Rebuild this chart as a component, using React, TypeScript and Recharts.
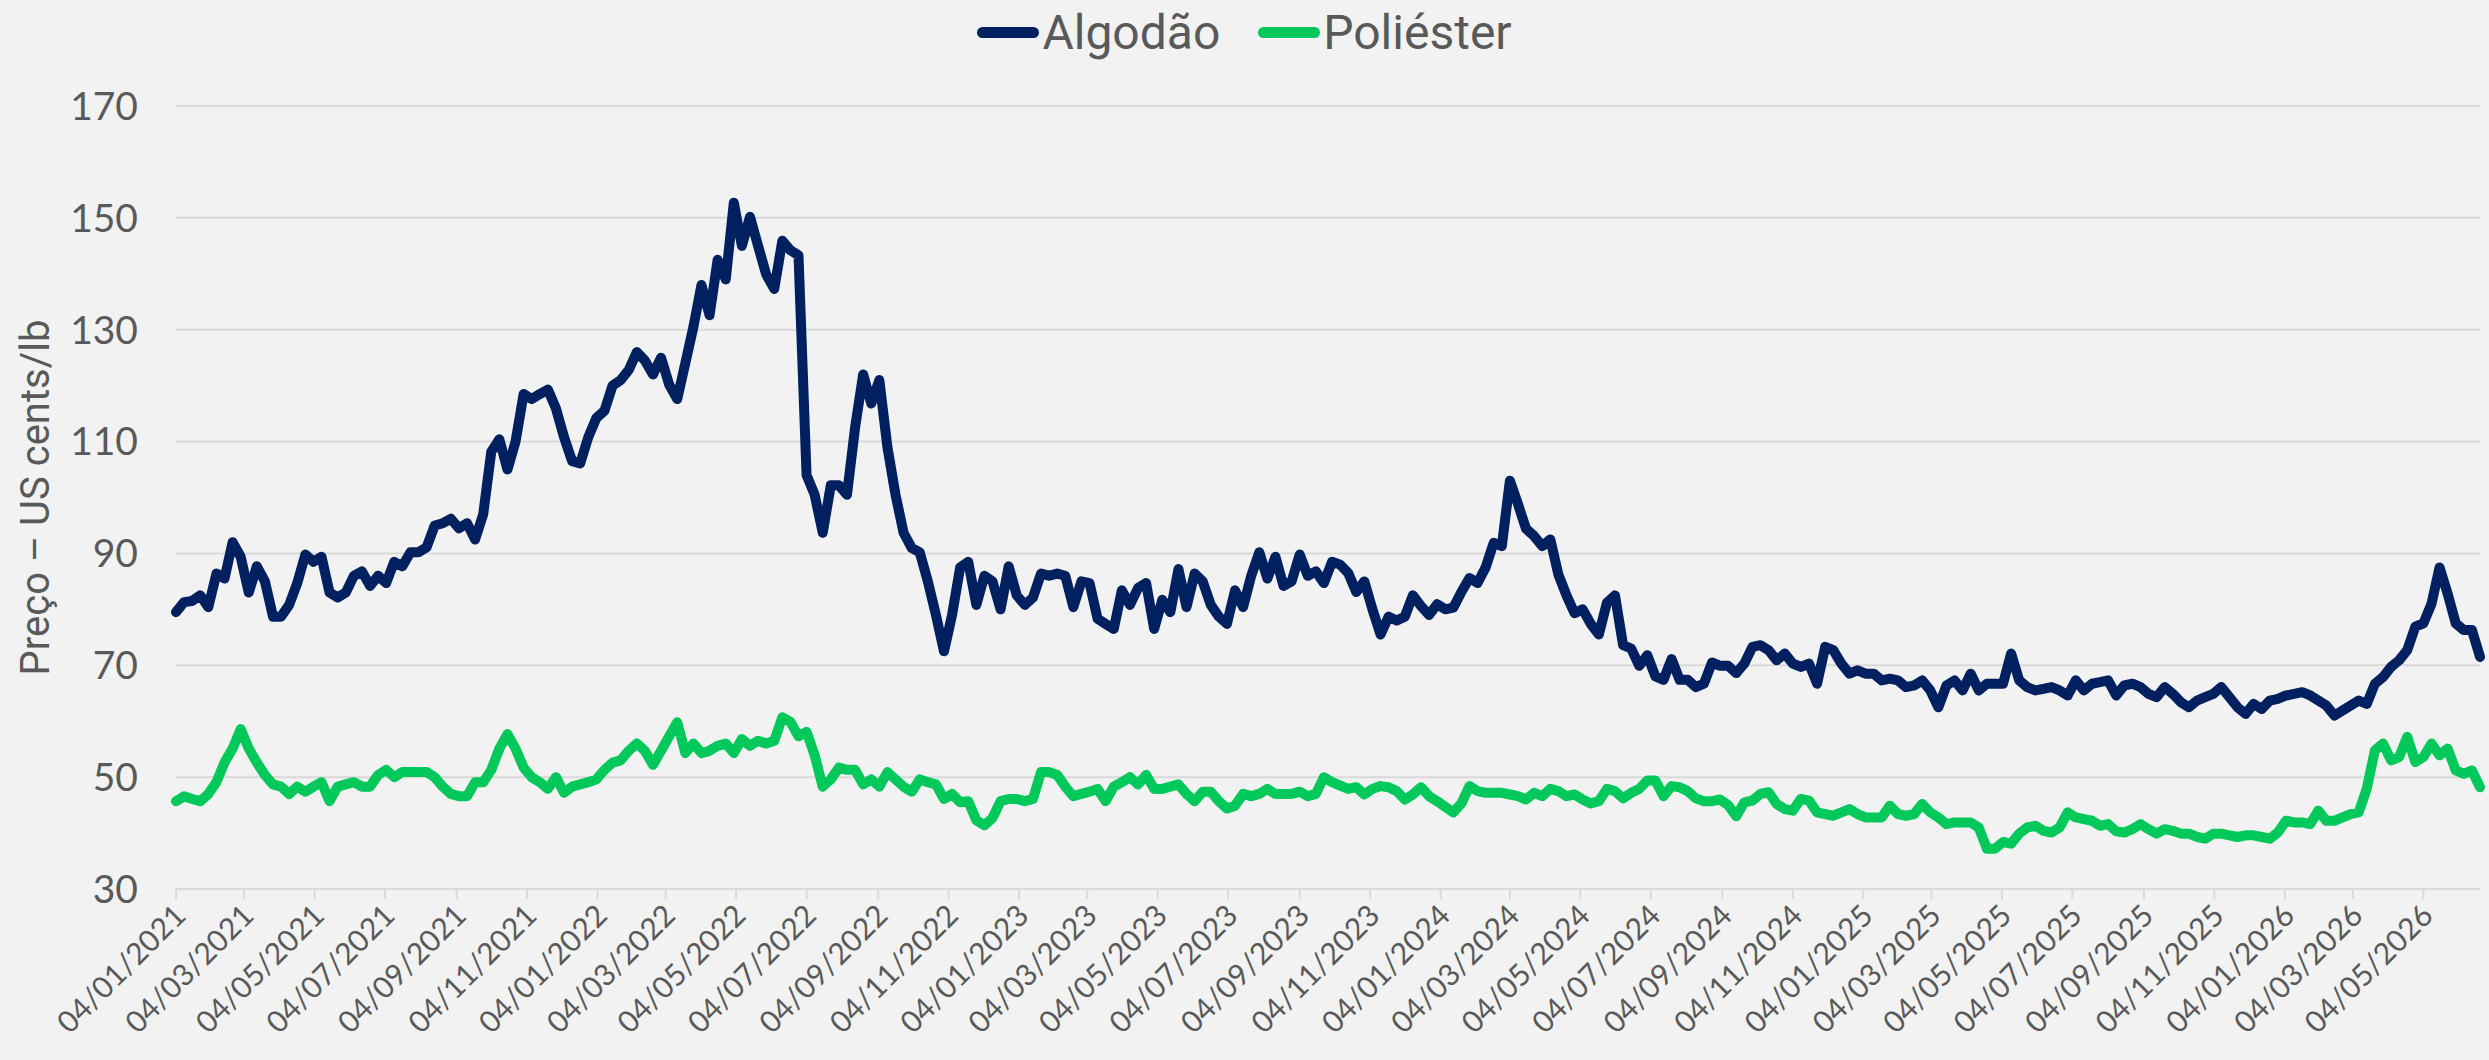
import { LineChart, Line, XAxis, YAxis, CartesianGrid } from 'recharts';

// weekly series, first point on 04/01/2021
const START = Date.UTC(2021, 0, 4);
const WEEK = 7 * 24 * 3600 * 1000;

const algodao = [
  79.5, 81.3, 81.5, 82.5, 80.4, 86.4, 85.5, 92, 89.4, 83,
  87.7, 85, 78.7, 78.7, 80.8, 84.7, 89.8, 88.5, 89.4, 83,
  82.1, 83, 86, 86.8, 84.2, 86, 84.7, 88.5, 87.7, 90.2,
  90.2, 91.1, 95, 95.4, 96.2, 94.5, 95.4, 92.5, 97, 108.2,
  110.4, 105, 110, 118.5, 117.6, 118.5, 119.3, 115.9, 110.8, 106.5,
  106.1, 110.8, 114.2, 115.5, 120, 121, 122.8, 126, 124.5, 122,
  125, 120.2, 117.6, 124, 130.5, 138, 132.6, 142.5, 139, 152.7,
  145, 150.2, 145, 139.9, 137.3, 145.9, 144.2, 143.3, 104, 100.5,
  93.7, 102.2, 102.2, 100.5, 112.5, 122, 116.8, 121, 109, 100.5,
  93.7, 91, 90.2, 85, 79, 72.5, 79, 87.5, 88.5, 80.8,
  86, 85, 80, 87.7, 82.5, 80.8, 82.1, 86.4, 86, 86.4,
  86, 80.4, 85, 84.7, 78.3, 77.4, 76.5, 83.4, 80.8, 83.8,
  84.7, 76.5, 81.7, 79.5, 87.2, 80.4, 86.4, 85, 80.8, 78.7,
  77.4, 83.4, 80.4, 86, 90.2, 85.5, 89.4, 84.2, 85, 89.8,
  86, 86.8, 84.7, 88.5, 88, 86.5, 83.1, 85, 80, 75.5,
  78.7, 78, 78.7, 82.5, 80.6, 79, 80.9, 80, 80.3, 83.1,
  85.6, 84.7, 87.5, 91.9, 91.3, 103, 98.8, 94.4, 93.1, 91.3,
  92.5, 86.2, 82.5, 79.3, 80, 77.4, 75.5, 81.2, 82.5, 73.6,
  73, 69.9, 71.8, 68, 67.4, 71.1, 67.4, 67.4, 66.1, 66.7,
  70.5, 69.9, 69.9, 68.6, 70.3, 73.3, 73.6, 72.7, 70.9, 72.1,
  70.3, 69.7, 70.3, 66.7, 73.3, 72.7, 70.3, 68.5, 69.1, 68.5,
  68.5, 67.3, 67.6, 67.3, 66.1, 66.4, 67.3, 65.5, 62.5, 66.4,
  67.3, 65.5, 68.5, 65.5, 66.7, 66.7, 66.7, 72.1, 67.3, 66.1,
  65.5, 65.8, 66.1, 65.5, 64.6, 67.3, 65.5, 66.7, 67, 67.3,
  64.6, 66.4, 66.7, 66.1, 64.9, 64.3, 66.1, 64.9, 63.4, 62.5,
  63.7, 64.3, 64.9, 66.1, 64.3, 62.5, 61.3, 63.1, 62.2, 63.7,
  64, 64.6, 64.9, 65.2, 64.6, 63.7, 62.8, 61, 61.9, 62.8,
  63.7, 63.1, 66.7, 67.9, 69.7, 70.9, 72.7, 76.9, 77.5, 81,
  87.5, 82.8, 77.5, 76.3, 76.3, 71.5,
];

const poliester = [
  45.7, 46.6, 46.1, 45.7, 47, 49.1, 52.6, 55.1, 58.6, 55.1,
  52.6, 50.4, 48.7, 48.3, 47, 48.3, 47.4, 48.3, 49.1, 45.7,
  48.3, 48.7, 49.1, 48.3, 48.3, 50.4, 51.3, 50, 50.9, 50.9,
  50.9, 50.9, 50, 48.3, 47, 46.6, 46.6, 49.1, 49.1, 51.3,
  55.1, 57.7, 55.1, 51.7, 50, 49.1, 47.9, 50, 47.2, 48.3,
  48.7, 49.1, 49.6, 51.3, 52.6, 53, 54.7, 56, 54.7, 52.2,
  54.7, 57.3, 59.8, 54.3, 56, 54.3, 54.7, 55.6, 56, 54.3,
  56.8, 55.6, 56.5, 56, 56.5, 60.7, 59.9, 57.3, 58.1, 53.9,
  48.3, 49.6, 51.7, 51.3, 51.3, 48.7, 49.6, 48.3, 50.9, 49.6,
  48.3, 47.4, 49.6, 49.1, 48.7, 46.1, 47, 45.5, 45.7, 42.3,
  41.4, 42.7, 45.7, 46.1, 46.1, 45.7, 46.1, 50.9, 50.9, 50.4,
  48.3, 46.6, 47, 47.4, 47.9, 45.7, 48.3, 49.1, 50, 48.7,
  50.4, 47.9, 47.9, 48.3, 48.7, 47, 45.7, 47.4, 47.4, 45.7,
  44.4, 44.9, 47, 46.6, 47, 47.9, 47, 47, 47, 47.4,
  46.6, 47, 50, 49.1, 48.5, 47.9, 48.2, 46.9, 47.9, 48.4,
  48.2, 47.5, 46, 46.9, 48.2, 46.6, 45.7, 44.7, 43.7, 45.3,
  48.4, 47.5, 47.2, 47.2, 47.2, 46.9, 46.6, 46, 47.2, 46.6,
  47.9, 47.5, 46.6, 46.9, 46, 45.3, 45.7, 47.9, 47.5, 46.2,
  47.2, 47.9, 49.4, 49.4, 46.6, 48.4, 48.2, 47.5, 46.2, 45.7,
  45.7, 46, 45, 43, 45.5, 45.8, 47, 47.3, 45.2, 44.3,
  44, 46.1, 45.8, 43.7, 43.4, 43.1, 43.7, 44.3, 43.4, 42.8,
  42.8, 42.8, 44.9, 43.4, 43.1, 43.4, 45.2, 43.7, 42.8, 41.6,
  41.9, 41.9, 41.9, 41, 37.2, 37.2, 38.4, 38.1, 39.9, 41,
  41.3, 40.4, 40.1, 41, 43.7, 42.8, 42.5, 42.2, 41.3, 41.6,
  40.3, 40.1, 40.7, 41.6, 40.7, 39.9, 40.7, 40.4, 39.9, 39.9,
  39.3, 39, 39.9, 39.9, 39.6, 39.3, 39.6, 39.6, 39.3, 39,
  40.1, 42.2, 41.9, 41.9, 41.6, 44, 42.2, 42.2, 42.8, 43.4,
  43.7, 48, 54.8, 56, 53, 53.6, 57.2, 52.7, 53.6, 56,
  53.9, 55.1, 51.2, 50.6, 51.2, 48.2,
];

const tickDates = [
  '2021-01-04', '2021-03-04', '2021-05-04', '2021-07-04', '2021-09-04', '2021-11-04',
  '2022-01-04', '2022-03-04', '2022-05-04', '2022-07-04', '2022-09-04', '2022-11-04',
  '2023-01-04', '2023-03-04', '2023-05-04', '2023-07-04', '2023-09-04', '2023-11-04',
  '2024-01-04', '2024-03-04', '2024-05-04', '2024-07-04', '2024-09-04', '2024-11-04',
  '2025-01-04', '2025-03-04', '2025-05-04', '2025-07-04', '2025-09-04', '2025-11-04',
  '2026-01-04', '2026-03-04', '2026-05-04',
];
const yTicks = [30, 50, 70, 90, 110, 130, 150, 170];

const data = algodao.map((v, i) => ({ t: START + i * WEEK, algodao: v, poliester: poliester[i] }));
const xTicks = tickDates.map(d => Date.parse(d));

const NAVY = '#002060';
const GREEN = '#00C85A';
const GREY = '#595959';

const fmt = (t: number) => {
  const d = new Date(t);
  const dd = String(d.getUTCDate()).padStart(2, '0');
  const mm = String(d.getUTCMonth() + 1).padStart(2, '0');
  return `${dd}/${mm}/${d.getUTCFullYear()}`;
};

const XTick = ({ x, y, payload }: any) => (
  <text transform={`translate(${x + 3},${y + 6}) rotate(-45)`} textAnchor="end" dominantBaseline="central"
    fill={GREY} fontSize={30} fontFamily="Lato">
    {fmt(payload.value)}
  </text>
);

const legendItems = [
  { name: 'Algodão', color: NAVY },
  { name: 'Poliéster', color: GREEN },
];

export default function App() {
  return (
    <div style={{ position: 'relative', width: 2489, height: 1060, background: '#F2F2F2' }}>
      <style>{`body{margin:0;background:#F2F2F2}`}</style>
      <div style={{ position: 'absolute', top: 0, left: 0, width: 2489, height: 64, display: 'flex', justifyContent: 'center', alignItems: 'center', gap: 38, fontFamily: 'Roboto', fontSize: 48, color: GREY }}>
        {legendItems.map(it => (
          <div key={it.name} style={{ display: 'flex', alignItems: 'center', gap: 3 }}>
            <div style={{ width: 62, height: 11, borderRadius: 6, background: it.color }} />
            <span>{it.name}</span>
          </div>
        ))}
      </div>
      <LineChart width={2489} height={1060} data={data} margin={{ top: 106, right: 9, bottom: 0, left: 0 }}>
        <CartesianGrid vertical={false} stroke="#D9D9D9" strokeWidth={2} />
        <XAxis dataKey="t" type="number" domain={[START, START + 285 * WEEK]} ticks={xTicks}
          interval={0} height={171} stroke="#D9D9D9" strokeWidth={2} tickSize={10} tickMargin={4}
          tick={<XTick />} />
        <YAxis domain={[30, 170]} ticks={yTicks} width={176} axisLine={false} tickLine={false} tickMargin={32}
          tick={{ fill: GREY, fontSize: 39, fontFamily: 'Lato' }}
          label={({ viewBox }: any) => (
            <text transform={`translate(35,${viewBox.y + viewBox.height / 2}) rotate(-90)`} textAnchor="middle"
              dominantBaseline="central" fill={GREY} fontSize={40} fontFamily="Roboto">
              Preço – US cents/lb
            </text>
          )} />
        <Line type="linear" dataKey="algodao" name="Algodão" stroke={NAVY} strokeWidth={10} dot={false}
          strokeLinejoin="round" strokeLinecap="round" isAnimationActive={false} />
        <Line type="linear" dataKey="poliester" name="Poliéster" stroke={GREEN} strokeWidth={10} dot={false}
          strokeLinejoin="round" strokeLinecap="round" isAnimationActive={false} />
      </LineChart>
    </div>
  );
}
